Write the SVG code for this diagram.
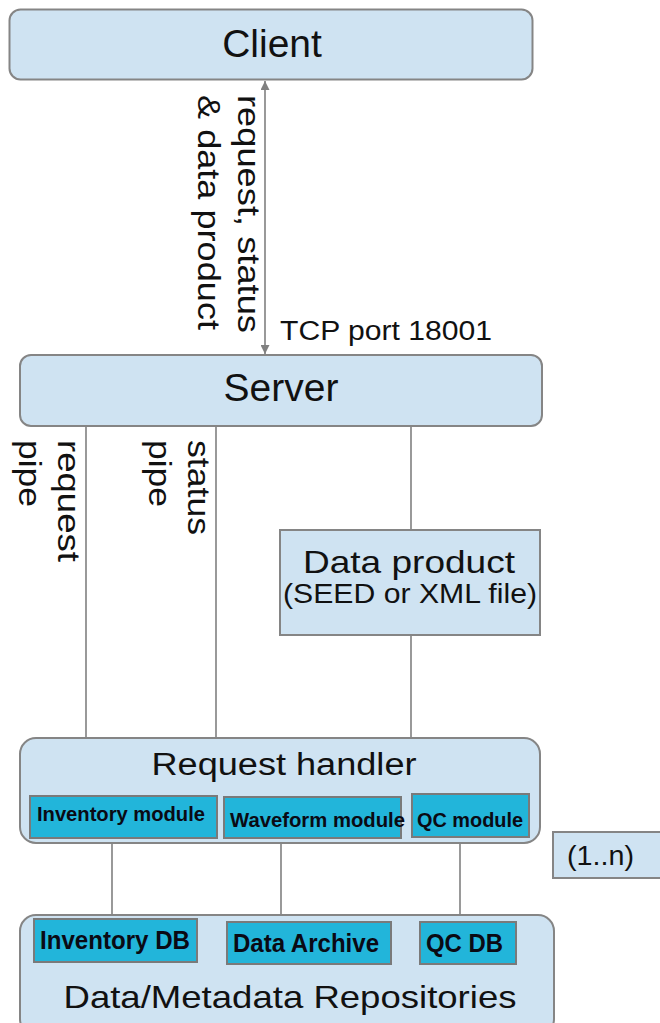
<svg xmlns="http://www.w3.org/2000/svg" width="660" height="1023" viewBox="0 0 660 1023">
  <style>
    .box { fill: #cfe3f2; stroke: #858585; stroke-width: 2; }
    .mod { fill: #22b5da; stroke: #7a7a7a; stroke-width: 2; }
    .wire { stroke: #808080; stroke-width: 1.6; fill: none; }
    .t { font-family: "Liberation Sans", Arial, sans-serif; fill: #111; }
    .big { font-size: 39px; }
    .mt { font-family: "Liberation Sans", Arial, sans-serif; font-weight: bold; fill: #0a0a14; font-size: 20px; }
    .dbt { font-family: "Liberation Sans", Arial, sans-serif; font-weight: bold; fill: #0a0a14; font-size: 25px; }
  </style>
  <defs>
    <marker id="arr" viewBox="0 0 10 10" refX="10" refY="5" markerWidth="10" markerHeight="9" markerUnits="userSpaceOnUse" orient="auto-start-reverse">
      <path d="M0,0 L10,5 L0,10 z" fill="#808080"/>
    </marker>
  </defs>
  <rect width="660" height="1023" fill="#ffffff"/>

  <!-- connectors and their labels -->
  <g id="connectors">
    <line class="wire" x1="265" y1="81" x2="265" y2="354" marker-start="url(#arr)" marker-end="url(#arr)"/>
    <line class="wire" x1="86" y1="426" x2="86" y2="738"/>
    <line class="wire" x1="216" y1="426" x2="216" y2="738"/>
    <line class="wire" x1="411" y1="426" x2="411" y2="530"/>
    <line class="wire" x1="411" y1="635" x2="411" y2="738"/>
    <line class="wire" x1="112" y1="843" x2="112" y2="915"/>
    <line class="wire" x1="281" y1="843" x2="281" y2="915"/>
    <line class="wire" x1="460" y1="843" x2="460" y2="915"/>
    <text class="t" font-size="31" transform="translate(238,95) rotate(90)" textLength="238" lengthAdjust="spacingAndGlyphs">request, status</text>
    <text class="t" font-size="31" transform="translate(198,95) rotate(90)" textLength="235" lengthAdjust="spacingAndGlyphs">&amp; data product</text>
    <text class="t" font-size="27" x="280" y="340" textLength="212" lengthAdjust="spacingAndGlyphs">TCP port 18001</text>
    <text class="t" font-size="32" transform="translate(58,440) rotate(90)" textLength="122" lengthAdjust="spacingAndGlyphs">request</text>
    <text class="t" font-size="32" transform="translate(19,440) rotate(90)" textLength="67" lengthAdjust="spacingAndGlyphs">pipe</text>
    <text class="t" font-size="32" transform="translate(188,440) rotate(90)" textLength="95" lengthAdjust="spacingAndGlyphs">status</text>
    <text class="t" font-size="32" transform="translate(149,440) rotate(90)" textLength="67" lengthAdjust="spacingAndGlyphs">pipe</text>
  </g>

  <g id="client">
    <rect class="box" x="9.5" y="9.5" width="523" height="70" rx="11"/>
    <text class="t big" x="272" y="57" text-anchor="middle">Client</text>
  </g>

  <g id="server">
    <rect class="box" x="20" y="355" width="522" height="71" rx="11"/>
    <text class="t big" x="281" y="401" text-anchor="middle">Server</text>
  </g>

  <g id="data-product">
    <rect class="box" x="280" y="530" width="260" height="105"/>
    <text class="t" font-size="32" x="409" y="573" text-anchor="middle" textLength="212" lengthAdjust="spacingAndGlyphs">Data product</text>
    <text class="t" font-size="27" x="410" y="603" text-anchor="middle" textLength="254" lengthAdjust="spacingAndGlyphs">(SEED or XML file)</text>
  </g>

  <g id="request-handler">
    <rect class="box" x="20" y="738" width="520" height="105" rx="16"/>
    <text class="t" font-size="31" x="284" y="775" text-anchor="middle" textLength="265" lengthAdjust="spacingAndGlyphs">Request handler</text>
    <g id="inventory-module">
      <rect class="mod" x="30" y="796" width="187" height="42"/>
      <text class="mt" x="37" y="821" textLength="168" lengthAdjust="spacingAndGlyphs">Inventory module</text>
    </g>
    <g id="waveform-module">
      <rect class="mod" x="224" y="797" width="177" height="41"/>
      <text class="mt" x="230" y="827" textLength="175" lengthAdjust="spacingAndGlyphs">Waveform module</text>
    </g>
    <g id="qc-module">
      <rect class="mod" x="412" y="794" width="117" height="43"/>
      <text class="mt" x="417" y="827" textLength="106" lengthAdjust="spacingAndGlyphs">QC module</text>
    </g>
  </g>

  <g id="multiplicity">
    <rect class="box" x="553" y="832" width="120" height="46"/>
    <text class="t" font-size="27" x="567" y="865" textLength="67" lengthAdjust="spacingAndGlyphs">(1..n)</text>
  </g>

  <g id="repositories">
    <rect class="box" x="20" y="915" width="534" height="120" rx="16"/>
    <g id="inventory-db">
      <rect class="mod" x="34" y="919" width="163" height="43"/>
      <text class="dbt" x="40" y="949" textLength="150" lengthAdjust="spacingAndGlyphs">Inventory DB</text>
    </g>
    <g id="data-archive">
      <rect class="mod" x="227" y="922" width="164" height="42"/>
      <text class="dbt" x="233" y="952" textLength="146" lengthAdjust="spacingAndGlyphs">Data Archive</text>
    </g>
    <g id="qc-db">
      <rect class="mod" x="420" y="922" width="96" height="42"/>
      <text class="dbt" x="426" y="952" textLength="77" lengthAdjust="spacingAndGlyphs">QC DB</text>
    </g>
    <text class="t" font-size="32" x="290" y="1008" text-anchor="middle" textLength="453" lengthAdjust="spacingAndGlyphs">Data/Metadata Repositories</text>
  </g>
</svg>
